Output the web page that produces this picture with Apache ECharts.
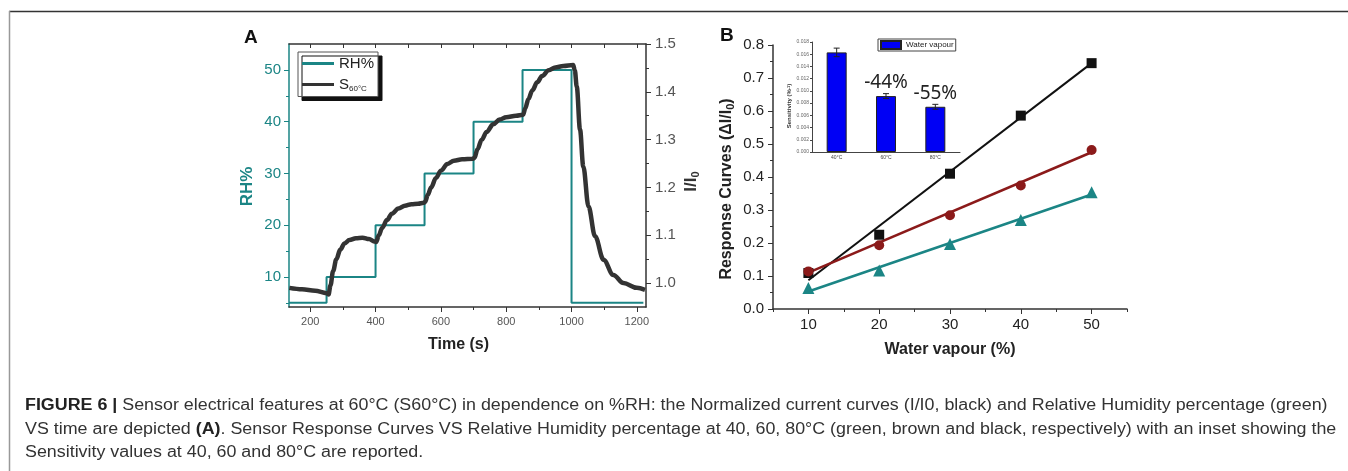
<!DOCTYPE html>
<html>
<head>
<meta charset="utf-8">
<script src="https://cdn.jsdelivr.net/npm/echarts@6/dist/echarts.min.js"></script>
<style>html,body{margin:0;padding:0;background:#fff}#c{width:1348px;height:471px}</style>
</head>
<body>
<div id="c"></div>
<script>
// ---------- Panel A data ----------
const rhTime  = [135, 250, 400, 550, 700, 850, 1000, 1220];
const rhValue = [5, 10, 20, 30, 40, 50, 5, 5];
const sTime  = [136, 175, 215, 250, 256, 262, 270, 280, 292, 305, 320, 340, 360, 380, 398, 402, 410, 420, 435, 450, 470, 490, 510, 530, 548, 552, 560, 570, 585, 600, 620, 640, 665, 698, 703, 712, 725, 740, 760, 780, 800, 830, 852, 858, 868, 880, 895, 910, 930, 950, 975, 1005, 1010, 1016, 1026, 1036, 1052, 1072, 1098, 1128, 1159, 1200, 1225];
const sValue = [0.990, 0.987, 0.984, 0.979, 0.976, 0.995, 1.025, 1.050, 1.070, 1.083, 1.090, 1.094, 1.095, 1.092, 1.087, 1.086, 1.100, 1.115, 1.132, 1.145, 1.156, 1.162, 1.165, 1.166, 1.168, 1.170, 1.185, 1.200, 1.220, 1.235, 1.249, 1.256, 1.259, 1.260, 1.262, 1.280, 1.300, 1.316, 1.332, 1.342, 1.347, 1.350, 1.352, 1.365, 1.385, 1.403, 1.420, 1.433, 1.445, 1.451, 1.454, 1.456, 1.445, 1.411, 1.321, 1.244, 1.160, 1.098, 1.049, 1.017, 1.000, 0.990, 0.986];
const timeTicks = [200, 400, 600, 800, 1000, 1200];
const timeMinor = [300, 500, 700, 900, 1100];
const rhTicks = [10, 20, 30, 40, 50];
const rhMinor = [5, 15, 25, 35, 45];
const iTicks = [1.0, 1.1, 1.2, 1.3, 1.4, 1.5];
const iMinor = [1.05, 1.15, 1.25, 1.35, 1.45];

// ---------- Panel B data ----------
const vapour = [10, 20, 30, 40, 50];
const resp80 = [0.109, 0.225, 0.410, 0.586, 0.745];
const resp60 = [0.114, 0.193, 0.284, 0.374, 0.482];
const resp40 = [0.064, 0.117, 0.197, 0.270, 0.354];
const fitX = [10, 50];
const fit80 = [0.087, 0.745];
const fit60 = [0.110, 0.475];
const fit40 = [0.053, 0.347];
const vapTicks = [10, 20, 30, 40, 50];
const vapMinor = [5, 15, 25, 35, 45, 55];

// ---------- Inset data ----------
const tempCats = ['40°C', '60°C', '80°C'];
const sens = [0.0163, 0.00915, 0.0074];
const sensErr = [0.0007, 0.0004, 0.0004];
const sensLabels = ['', '-44%', '-55%'];

// ---------- Caption ----------
const captionLines = [
  '{b|FIGURE 6 |} Sensor electrical features at 60°C (S60°C) in dependence on %RH: the Normalized current curves (I/I0, black) and Relative Humidity percentage (green)',
  'VS time are depicted {b|(A)}. Sensor Response Curves VS Relative Humidity percentage at 40, 60, 80°C (green, brown and black, respectively) with an inset showing the',
  'Sensitivity values at 40, 60 and 80°C are reported.'
];

const TEAL = '#1b8585';
const DARK = '#333';
const BROWN = '#8b1a1a';
const FF = 'Liberation Sans, Arial, sans-serif';

const zip = (a, b) => a.map((v, i) => [v, b[i]]);

const chart = echarts.init(document.getElementById('c'));

const hidden = { show: false };
function minorAxis(extra) {
  return Object.assign({
    type: 'value', axisLine: { show: false, onZero: false }, axisLabel: hidden,
    splitLine: hidden
  }, extra);
}

const captionGraphics = captionLines.map((t, i) => ({
  type: 'text', x: 25, y: 398 + i * 23.3, scaleX: 1.116, scaleY: 1,
  style: {
    text: t, x: 0, y: 0, fontSize: 16, fill: '#333', fontFamily: FF,
    verticalAlign: 'top', align: 'left',
    rich: { b: { fontWeight: 'bold', fontSize: 16, fill: '#222', fontFamily: FF } }
  }
}));

const option = {
  animation: false,
  textStyle: { fontFamily: FF },
  grid: [
    { left: 289, top: 44, width: 357, height: 263 },
    { left: 773, top: 45, width: 354, height: 264 },
    { left: 812, top: 42, width: 148, height: 110 }
  ],
  legend: [
    {
      left: 298, top: 52, orient: 'vertical',
      data: [{ name: 'RH%', icon: 'rect' }, { name: 'S60', icon: 'rect' }],
      itemWidth: 32, itemHeight: 3, itemGap: 6,
      padding: [4, 4, 4, 4],
      backgroundColor: '#fff', borderColor: '#555', borderWidth: 1,
      shadowColor: '#111', shadowOffsetX: 4, shadowOffsetY: 4, shadowBlur: 0,
      textStyle: { fontSize: 15, color: '#222', fontFamily: FF,
        rich: { sub: { fontSize: 8, verticalAlign: 'bottom', padding: [8, 0, 0, 0], color: '#222' } } },
      formatter: n => n === 'S60' ? 'S{sub|60°C}' : n
    },
    {
      left: 878, top: 39,
      data: [{ name: 'Water vapour', icon: 'rect' }],
      itemWidth: 20, itemHeight: 8, itemGap: 2,
      padding: [1, 2, 1, 2],
      backgroundColor: '#fff', borderColor: '#444', borderWidth: 1,
      textStyle: { fontSize: 8, color: '#222', fontFamily: FF }
    }
  ],
  xAxis: [
    // 0: A bottom
    {
      type: 'value', gridIndex: 0, min: 135, max: 1228, position: 'bottom',
      name: 'Time (s)', nameLocation: 'middle', nameGap: 30,
      nameTextStyle: { fontSize: 16, fontWeight: 'bold', color: '#222', padding: [0, 18, 0, 0] },
      axisLine: { onZero: false, lineStyle: { color: DARK, width: 1.5 } },
      axisTick: { customValues: timeTicks, length: 5, lineStyle: { color: DARK } },
      axisLabel: { customValues: timeTicks, fontSize: 11, color: '#555', margin: 9, formatter: v => String(v) },
      splitLine: hidden
    },
    // 1: A bottom minor
    minorAxis({ gridIndex: 0, min: 135, max: 1228, position: 'bottom',
      axisTick: { customValues: timeMinor, length: 3, lineStyle: { color: DARK } } }),
    // 2: A top
    {
      type: 'value', gridIndex: 0, min: 135, max: 1228, position: 'top',
      axisLine: { onZero: false, lineStyle: { color: DARK, width: 1.5 } },
      axisTick: { customValues: timeTicks.concat(timeMinor), inside: true, length: 4, lineStyle: { color: DARK } },
      axisLabel: hidden, splitLine: hidden
    },
    // 3: B bottom
    {
      type: 'value', gridIndex: 1, min: 5, max: 55, position: 'bottom',
      name: 'Water vapour (%)', nameLocation: 'middle', nameGap: 33,
      nameTextStyle: { fontSize: 16, fontWeight: 'bold', color: '#222' },
      axisLine: { onZero: false, lineStyle: { color: DARK, width: 1.5 } },
      axisTick: { customValues: vapTicks, length: 5, lineStyle: { color: DARK } },
      axisLabel: { customValues: vapTicks, fontSize: 15, color: '#222', margin: 8 },
      splitLine: hidden
    },
    // 4: B bottom minor
    minorAxis({ gridIndex: 1, min: 5, max: 55, position: 'bottom',
      axisTick: { customValues: vapMinor, length: 3, lineStyle: { color: DARK } } }),
    // 5: inset category
    {
      type: 'category', gridIndex: 2, data: tempCats, position: 'bottom',
      axisLine: { onZero: false, lineStyle: { color: '#444', width: 1 } },
      axisTick: { length: 2, lineStyle: { color: '#444' } },
      axisLabel: { fontSize: 5, color: '#444', margin: 3 }
    }
  ],
  yAxis: [
    // 0: A left RH
    {
      type: 'value', gridIndex: 0, min: 4.2, max: 55, position: 'left',
      name: 'RH%', nameLocation: 'middle', nameGap: 33, nameRotate: 90,
      nameTextStyle: { fontSize: 17, fontWeight: 'bold', color: TEAL, padding: [0, 22, 0, 0] },
      axisLine: { onZero: false, lineStyle: { color: TEAL, width: 1.5 } },
      axisTick: { customValues: rhTicks, length: 5, lineStyle: { color: TEAL } },
      axisLabel: { customValues: rhTicks, fontSize: 15, color: TEAL, margin: 8 },
      splitLine: hidden
    },
    // 1: A left minor
    minorAxis({ gridIndex: 0, min: 4.2, max: 55, position: 'left',
      axisTick: { customValues: rhMinor, length: 3, lineStyle: { color: TEAL } } }),
    // 2: A right I/I0
    {
      type: 'value', gridIndex: 0, min: 0.95, max: 1.5, position: 'right',
      name: 'I/I{sub|0}', nameLocation: 'middle', nameGap: 36, nameRotate: 90,
      nameTextStyle: { fontSize: 17, fontWeight: 'bold', color: '#333', padding: [0, 12, 0, 0],
        rich: { sub: { fontSize: 11, fontWeight: 'bold', color: '#333', verticalAlign: 'bottom', padding: [8, 0, 0, 0] } } },
      axisLine: { onZero: false, lineStyle: { color: DARK, width: 1.5 } },
      axisTick: { customValues: iTicks, length: 5, lineStyle: { color: DARK } },
      axisLabel: { customValues: iTicks, fontSize: 15, color: '#555', margin: 9, formatter: v => v.toFixed(1) },
      splitLine: hidden
    },
    // 3: A right minor
    minorAxis({ gridIndex: 0, min: 0.95, max: 1.5, position: 'right',
      axisTick: { customValues: iMinor, length: 3, lineStyle: { color: DARK } } }),
    // 4: B left
    {
      type: 'value', gridIndex: 1, min: 0, max: 0.8, interval: 0.1, position: 'left',
      name: 'Response Curves (ΔI/I{sub|0})', nameLocation: 'middle', nameGap: 37, nameRotate: 90,
      nameTextStyle: { fontSize: 16, fontWeight: 'bold', color: '#222', padding: [0, 24, 0, 0],
        rich: { sub: { fontSize: 11, fontWeight: 'bold', color: '#222', verticalAlign: 'bottom', padding: [8, 0, 0, 0] } } },
      axisLine: { show: true, onZero: false, lineStyle: { color: DARK, width: 1.5 } },
      axisTick: { show: true, length: 5, lineStyle: { color: DARK } },
      minorTick: { show: true, splitNumber: 2, length: 3, lineStyle: { color: DARK } },
      axisLabel: { fontSize: 15, color: '#222', margin: 9, formatter: v => v.toFixed(1) },
      splitLine: hidden, minorSplitLine: hidden
    },
    // 5: inset
    {
      type: 'value', gridIndex: 2, min: 0, max: 0.018, interval: 0.002, position: 'left',
      name: 'Sensitivity (%{sup|-1})', nameLocation: 'middle', nameGap: 18, nameRotate: 90,
      nameTextStyle: { fontSize: 6, fontWeight: 'bold', color: '#333', padding: [0, 18, 0, 0],
        rich: { sup: { fontSize: 4, fontWeight: 'bold', color: '#333', verticalAlign: 'top' } } },
      axisLine: { show: true, onZero: false, lineStyle: { color: '#444', width: 1 } },
      axisTick: { show: true, length: 2, lineStyle: { color: '#444' } },
      axisLabel: { fontSize: 5, color: '#666', margin: 3, formatter: v => v.toFixed(3) },
      splitLine: hidden
    }
  ],
  series: [
    {
      name: 'RH%', type: 'line', xAxisIndex: 0, yAxisIndex: 0,
      data: zip(rhTime, rhValue), step: 'end', symbol: 'none',
      lineStyle: { color: TEAL, width: 2 }, itemStyle: { color: TEAL }, z: 2
    },
    {
      name: 'S60', type: 'line', xAxisIndex: 0, yAxisIndex: 2,
      data: zip(sTime, sValue), symbol: 'none', smooth: 0.35, smoothMonotone: 'x',
      lineStyle: { color: DARK, width: 4.5 }, itemStyle: { color: DARK }, z: 3
    },
    // Panel B fit lines
    {
      name: 'fit80', type: 'line', xAxisIndex: 3, yAxisIndex: 4, data: zip(fitX, fit80),
      symbol: 'none', lineStyle: { color: '#111', width: 2 }, z: 2
    },
    {
      name: 'fit60', type: 'line', xAxisIndex: 3, yAxisIndex: 4, data: zip(fitX, fit60),
      symbol: 'none', lineStyle: { color: BROWN, width: 2.5 }, z: 2
    },
    {
      name: 'fit40', type: 'line', xAxisIndex: 3, yAxisIndex: 4, data: zip(fitX, fit40),
      symbol: 'none', lineStyle: { color: TEAL, width: 2.5 }, z: 2
    },
    // Panel B markers
    {
      name: '80°C', type: 'scatter', xAxisIndex: 3, yAxisIndex: 4, data: zip(vapour, resp80),
      symbol: 'rect', symbolSize: 10, itemStyle: { color: '#111', opacity: 1 }, z: 3
    },
    {
      name: '60°C', type: 'scatter', xAxisIndex: 3, yAxisIndex: 4, data: zip(vapour, resp60),
      symbol: 'circle', symbolSize: 10, itemStyle: { color: BROWN, opacity: 1 }, z: 3
    },
    {
      name: '40°C', type: 'scatter', xAxisIndex: 3, yAxisIndex: 4, data: zip(vapour, resp40),
      symbol: 'triangle', symbolSize: 12, itemStyle: { color: TEAL, opacity: 1 }, z: 3
    },
    // Inset
    {
      name: 'Water vapour', type: 'bar', xAxisIndex: 5, yAxisIndex: 5, data: sens,
      barWidth: 20, itemStyle: { color: '#0000f5', borderColor: '#222', borderWidth: 1 },
      label: { show: true, position: 'top', distance: 4, fontSize: 19, color: '#222',
        fontFamily: 'Noto Sans, Liberation Sans, sans-serif', formatter: p => sensLabels[p.dataIndex] },
      z: 5
    },
    {
      name: 'err', type: 'custom', xAxisIndex: 5, yAxisIndex: 5,
      data: sens.map((v, i) => [i, v, sensErr[i]]),
      renderItem: (params, api) => {
        const x = api.value(0), v = api.value(1), e = api.value(2);
        const hi = api.coord([x, v + e]);
        const lo = api.coord([x, v - e]);
        const w = 3;
        const st = { stroke: '#222', lineWidth: 1 };
        return { type: 'group', children: [
          { type: 'line', shape: { x1: hi[0], y1: hi[1], x2: lo[0], y2: lo[1] }, style: st },
          { type: 'line', shape: { x1: hi[0] - w, y1: hi[1], x2: hi[0] + w, y2: hi[1] }, style: st },
          { type: 'line', shape: { x1: lo[0] - w, y1: lo[1], x2: lo[0] + w, y2: lo[1] }, style: st }
        ] };
      },
      z: 6
    }
  ],
  graphic: [
    { type: 'line', shape: { x1: 9, y1: 11.5, x2: 1348, y2: 11.5 }, style: { stroke: '#333', lineWidth: 1.5 } },
    { type: 'line', shape: { x1: 9.5, y1: 11, x2: 9.5, y2: 471 }, style: { stroke: '#999', lineWidth: 1.5 } },
    { type: 'text', left: 244, top: 28, style: { text: 'A', fontSize: 19, fontWeight: 'bold', fill: '#111', fontFamily: FF } },
    { type: 'text', left: 720, top: 26, style: { text: 'B', fontSize: 19, fontWeight: 'bold', fill: '#111', fontFamily: FF } }
  ].concat(captionGraphics)
};
chart.setOption(option);
</script>
</body>
</html>
